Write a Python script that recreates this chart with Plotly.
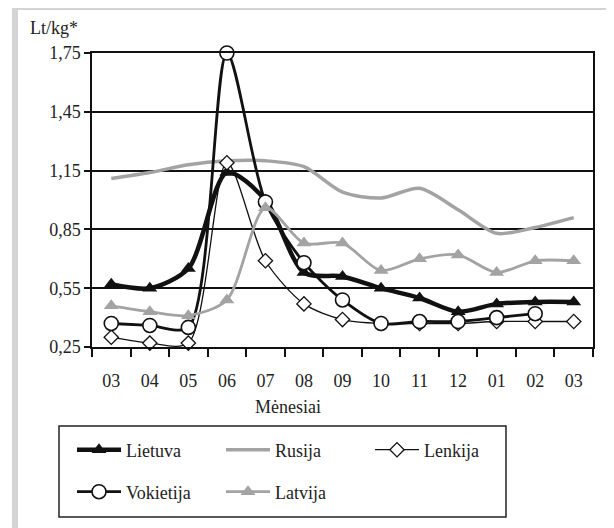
import plotly.graph_objects as go

months = ["03", "04", "05", "06", "07", "08", "09", "10", "11", "12", "01", "02", "03"]
lietuva = [0.57, 0.55, 0.65, 1.14, 1.00, 0.63, 0.61, 0.55, 0.50, 0.43, 0.47, 0.48, 0.48]
rusija = [1.11, 1.14, 1.18, 1.20, 1.20, 1.17, 1.04, 1.01, 1.06, 0.95, 0.83, 0.86, 0.91]
lenkija = [0.30, 0.27, 0.27, 1.19, 0.69, 0.47, 0.39, 0.37, 0.37, 0.37, 0.38, 0.38, 0.38]
vokietija = [0.37, 0.36, 0.35, 1.75, 0.99, 0.68, 0.49, 0.37, 0.38, 0.38, 0.40, 0.42, None]
latvija = [0.46, 0.43, 0.41, 0.49, 0.96, 0.78, 0.78, 0.64, 0.70, 0.72, 0.63, 0.69, 0.69]
yticks = [0.25, 0.55, 0.85, 1.15, 1.45, 1.75]

x = list(range(len(months)))
FONT = "Liberation Serif"
GRAY = "#a3a3a3"
BLACK = "#111111"
TXT = "#222222"

def px(v):
    return (v - 92) / 501

def py(v):
    return (347 - v) / 294

fig = go.Figure()
fig.add_trace(go.Scatter(x=x, y=lietuva, name="Lietuva", mode="lines+markers",
                         line=dict(color=BLACK, width=4.5, shape="spline", smoothing=0.8),
                         marker=dict(symbol="triangle-up", size=13, color=BLACK),
                         cliponaxis=False, legend="legend"))
fig.add_trace(go.Scatter(x=x, y=rusija, name="Rusija", mode="lines",
                         line=dict(color=GRAY, width=3.5, shape="spline", smoothing=0.8),
                         cliponaxis=False, legend="legend"))
fig.add_trace(go.Scatter(x=x, y=lenkija, name="Lenkija", mode="lines+markers",
                         line=dict(color=BLACK, width=1.3, shape="spline", smoothing=0.8),
                         marker=dict(symbol="diamond", size=11, color="white",
                                     line=dict(color=BLACK, width=1.3)),
                         cliponaxis=False, legend="legend"))
fig.add_trace(go.Scatter(x=x, y=vokietija, name="Vokietija", mode="lines+markers",
                         line=dict(color=BLACK, width=2.8, shape="spline", smoothing=0.8),
                         marker=dict(symbol="circle", size=14, color="white",
                                     line=dict(color=BLACK, width=1.6)),
                         cliponaxis=False, legend="legend2"))
fig.add_trace(go.Scatter(x=x, y=latvija, name="Latvija", mode="lines+markers",
                         line=dict(color=GRAY, width=2.8, shape="spline", smoothing=0.8),
                         marker=dict(symbol="triangle-up", size=13, color=GRAY),
                         cliponaxis=False, legend="legend2"))

leg_common = dict(orientation="h", xanchor="left", yanchor="middle",
                  entrywidth=90, entrywidthmode="pixels", itemwidth=44,
                  bgcolor="rgba(0,0,0,0)", borderwidth=0,
                  font=dict(family=FONT, size=18, color=TXT), traceorder="normal")

fig.update_layout(
    width=606, height=520,
    margin=dict(l=84, r=21, t=45, b=181),
    paper_bgcolor="white", plot_bgcolor="white",
    font=dict(family=FONT, size=18, color=TXT),
    showlegend=True,
    legend=dict(x=px(72), y=py(450), **leg_common),
    legend2=dict(x=px(72), y=py(492), **leg_common),
    xaxis=dict(range=[-0.5, len(months) - 0.5], tickvals=x, ticktext=months,
               ticks="", showgrid=False, showline=True, linecolor=BLACK, linewidth=1.5,
               mirror=True, zeroline=False, ticklabelstandoff=17,
               minor=dict(tickvals=[i - 0.5 for i in range(len(months) + 1)],
                          ticks="outside", ticklen=8, tickcolor=BLACK, tickwidth=1.5,
                          showgrid=False),
               tickfont=dict(family=FONT, size=18, color=TXT)),
    yaxis=dict(range=[0.25, 1.75], tickvals=yticks,
               ticktext=[f"{v:.2f}".replace(".", ",") for v in yticks],
               ticks="outside", ticklen=6, tickcolor=BLACK, tickwidth=1.5,
               showgrid=True, gridcolor=BLACK, gridwidth=1.5,
               showline=True, linecolor=BLACK, linewidth=1.5, mirror=True, zeroline=False,
               tickfont=dict(family=FONT, size=18, color=TXT)),
    shapes=[
        dict(type="rect", xref="paper", yref="paper", x0=px(15), x1=px(614), y0=py(7), y1=py(534),
             line=dict(color="#d4d4d4", width=6), fillcolor="rgba(0,0,0,0)", layer="below"),
        dict(type="rect", xref="paper", yref="paper", x0=px(59), x1=px(506), y0=py(426), y1=py(517),
             line=dict(color=TXT, width=1.5), fillcolor="rgba(0,0,0,0)"),
    ],
    annotations=[
        dict(text="Lt/kg*", x=px(28), y=py(28), xref="paper", yref="paper",
             xanchor="left", yanchor="middle", showarrow=False,
             font=dict(family=FONT, size=18, color=TXT)),
        dict(text="Mėnesiai", x=px(288), y=py(407), xref="paper", yref="paper",
             xanchor="center", yanchor="middle", showarrow=False,
             font=dict(family=FONT, size=18, color=TXT)),
    ],
)

fig.write_html("out.html")
